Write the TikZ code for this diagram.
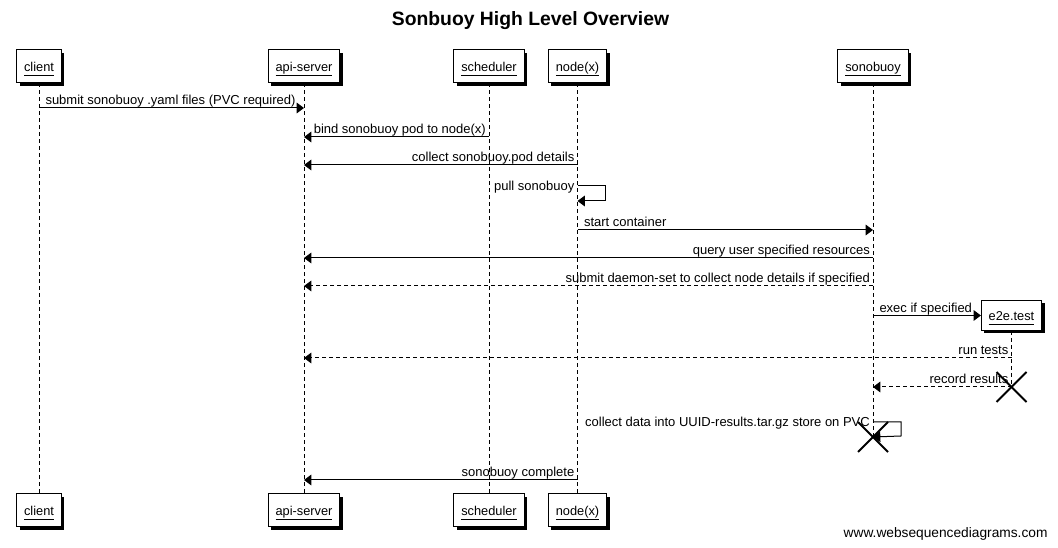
\documentclass[tikz,border=0pt]{standalone}
\usepackage{fontspec}
\setmainfont{Liberation Sans}
\usetikzlibrary{arrows.meta}
\usetikzlibrary{shadows}

\newcommand{\actorname}[1]{\underline{#1\vphantom{p}}}

\begin{document}
\begin{tikzpicture}[x=0.75pt, y=-0.75pt, line width=0.75pt,
        actor/.style={draw, fill=white, minimum height=24.75pt, inner xsep=5.5pt,
            text height=9pt, text depth=2.2pt,
            font=\fontsize{9.6}{11}\selectfont,
            drop shadow={shadow xshift=2.25pt, shadow yshift=-2.25pt, fill=black, opacity=1}},
        life/.style={dash pattern=on 3pt off 2.25pt},
        msg/.style={-{Triangle[length=5.5pt, width=8pt]}},
        reply/.style={msg, dash pattern=on 3pt off 2.25pt},
        lbl/.style={font=\fontsize{9.75}{11}\selectfont, inner sep=0pt},
        lr/.style={lbl, pos=0, anchor=base west, xshift=4.5pt, yshift=2.5pt},
        rl/.style={lbl, pos=0, anchor=base east, xshift=-2pt, yshift=2.5pt},
        self/.style={lbl, pos=0, anchor=base east, xshift=-2pt, yshift=-3.25pt},
        kill/.style={line width=1.5pt}]
    \useasboundingbox (0,0) rectangle (1058,548);

    \node[font=\bfseries\fontsize{14.5}{17}\selectfont] (title) at (530.5,21) {Sonbuoy High Level Overview};

    \node[actor] (client) at (39,66.5) {\actorname{client}};
    \node[actor] (api) at (304,66.5) {\actorname{api-server}};
    \node[actor] (sched) at (489,66.5) {\actorname{scheduler}};
    \node[actor] (nodex) at (577.5,66.5) {\actorname{node(x)}};
    \node[actor] (sono) at (873,66.5) {\actorname{sonobuoy}};
    \node[actor, minimum height=22.5pt] (e2e) at (1011.5,315.5) {\actorname{e2e.test}};

    \node[actor] (client-b) at (39,510.5) {\actorname{client}};
    \node[actor] (api-b) at (304,510.5) {\actorname{api-server}};
    \node[actor] (sched-b) at (489,510.5) {\actorname{scheduler}};
    \node[actor] (nodex-b) at (577.5,510.5) {\actorname{node(x)}};

    \coordinate (sono-end) at (873,437);
    \coordinate (e2e-end) at (1011.5,387);

    \draw[life] (client) -- (client-b);
    \draw[life] (api) -- (api-b);
    \draw[life] (sched) -- (sched-b);
    \draw[life] (nodex) -- (nodex-b);
    \draw[life] (sono) -- (sono-end);
    \draw[life] (e2e) -- (e2e-end);

    \draw[msg] (client |- 0,108) -- (api |- 0,108) node[lr] {submit sonobuoy .yaml files (PVC required)};
    \draw[msg] (sched |- 0,137) -- (api |- 0,137) node[rl] {bind sonobuoy pod to node(x)};
    \draw[msg] (nodex |- 0,165) -- (api |- 0,165) node[rl] {collect sonobuoy.pod details};
    \draw[msg] (nodex |- 0,186) -- ++(28,0) node[self] {pull sonobuoy} -- ++(0,15) -- (nodex |- 0,201);
    \draw[msg] (nodex |- 0,230) -- (sono |- 0,230) node[lr] {start container};
    \draw[msg] (sono |- 0,258) -- (api |- 0,258) node[rl] {query user specified resources};
    \draw[reply] (sono |- 0,286) -- (api |- 0,286) node[rl] {submit daemon-set to collect node details if specified};
    \draw[msg] (sono |- e2e.west) -- (e2e.west) node[lr] {exec if specified};
    \draw[reply] (e2e |- 0,358) -- (api |- 0,358) node[rl] {run tests};
    \draw[reply] (e2e-end) -- (sono |- e2e-end) node[rl] {record results};
    \draw[msg] (sono |- 0,422) -- ++(28,0) node[self] {collect data into UUID-results.tar.gz store on PVC} -- ++(0,14) -- (sono-end);
    \draw[msg] (nodex |- 0,480) -- (api |- 0,480) node[rl] {sonobuoy complete};

    \draw[kill] ([shift={(-15,-15)}]e2e-end) -- ([shift={(15,15)}]e2e-end);
    \draw[kill] ([shift={(-15,15)}]e2e-end) -- ([shift={(15,-15)}]e2e-end);
    \draw[kill] ([shift={(-15,-15)}]sono-end) -- ([shift={(15,15)}]sono-end);
    \draw[kill] ([shift={(-15,15)}]sono-end) -- ([shift={(15,-15)}]sono-end);

    \node[font=\fontsize{10.3}{12}\selectfont, inner sep=0pt, anchor=base east] (footer) at (1048,538) {www.websequencediagrams.com};
\end{tikzpicture}
\end{document}
